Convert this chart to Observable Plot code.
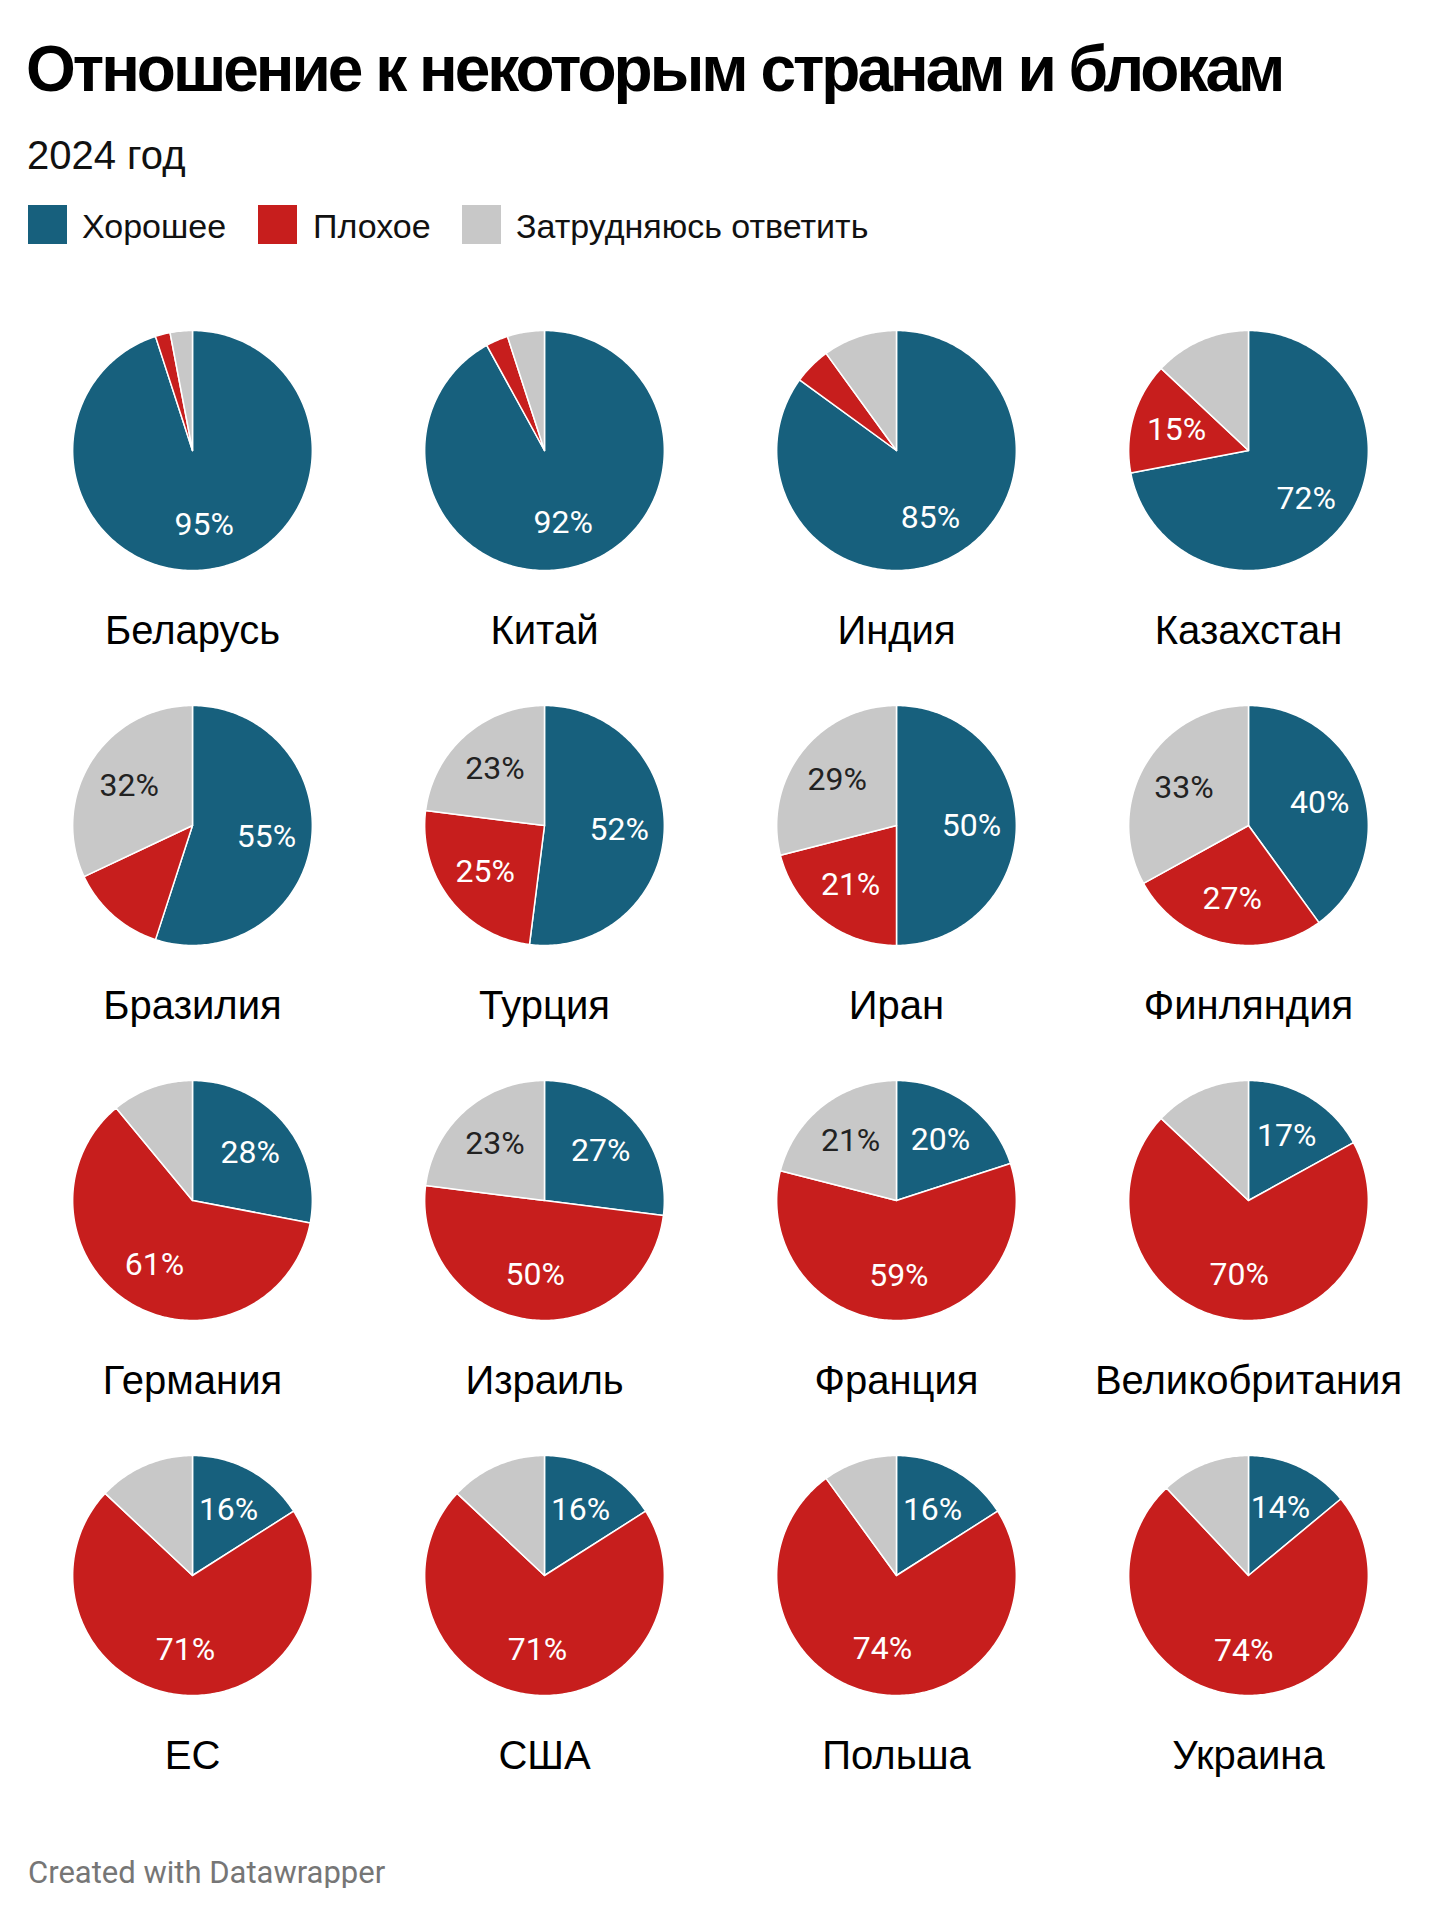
<!DOCTYPE html>
<html>
<head>
<meta charset="utf-8">
<script src="https://cdn.jsdelivr.net/npm/d3@7"></script>
<script src="https://cdn.jsdelivr.net/npm/@observablehq/plot@0.6"></script>
<style>
  html, body { margin: 0; padding: 0; background: #fff; }
  #wrap { position: relative; width: 1439px; }
  #header { position: relative; height: 270px; }
  .abs { position: absolute; white-space: nowrap; line-height: 1; }
  #title { left: 26px; top: 32px; font: bold 64px "Liberation Sans", Arial, sans-serif; letter-spacing: -3px; color: #000; }
  #subtitle { left: 27px; top: 133px; font: 40px "Liberation Sans", Arial, sans-serif; color: #111; }
  .sw { position: absolute; top: 205px; width: 39px; height: 39px; }
  .lt { top: 207px; font: 34px "Liberation Sans", Arial, sans-serif; color: #111; }
  #chart svg { display: block; }
  #footer { margin-top: 57px; padding-left: 28px; font: 31px Roboto, sans-serif; line-height: 1; color: #767676; }
</style>
</head>
<body>
<div id="wrap">
  <div id="header">
    <div id="title" class="abs">Отношение к некоторым странам и блокам</div>
    <div id="subtitle" class="abs">2024 год</div>
    <div id="legend"></div>
  </div>
  <div id="chart"></div>
  <div id="footer">Created with Datawrapper</div>
</div>
<script>
const countries = ["Беларусь","Китай","Индия","Казахстан","Бразилия","Турция","Иран","Финляндия","Германия","Израиль","Франция","Великобритания","ЕС","США","Польша","Украина"];
const good   = [95, 92, 85, 72, 55, 52, 50, 40, 28, 27, 20, 17, 16, 16, 16, 14];
const bad    = [ 2,  3,  5, 15, 13, 25, 21, 27, 61, 50, 59, 70, 71, 71, 74, 74];
const unsure = [ 3,  5, 10, 13, 32, 23, 29, 33, 11, 23, 21, 13, 13, 13, 10, 12];
const categories = ["Хорошее", "Плохое", "Затрудняюсь ответить"];
const colors = ["#17607d", "#c71e1d", "#c8c8c8"];
const COLS = 4;
const LABEL_MIN = 14;

// legend (HTML, above the SVG)
const legendX = [[28, 82], [258, 313], [462, 516]];
const legend = document.getElementById("legend");
categories.forEach((c, k) => {
  const sw = document.createElement("div");
  sw.className = "sw"; sw.style.left = legendX[k][0] + "px"; sw.style.background = colors[k];
  legend.appendChild(sw);
  const t = document.createElement("div");
  t.className = "abs lt"; t.style.left = legendX[k][1] + "px"; t.textContent = c;
  legend.appendChild(t);
});

// build pie geometry from the data
const series = [good, bad, unsure];
const pie = d3.pie().sort(null).value(d => d.value);
const slicePts = [], sliceLabels = [], names = [];
countries.forEach((name, i) => {
  const col = i % COLS, row = Math.floor(i / COLS);
  names.push({name, col, row});
  const vals = categories.map((cat, k) => ({cat, value: series[k][i]}));
  pie(vals).forEach(a => {
    const cat = a.data.cat, id = name + "|" + cat;
    const span = a.endAngle - a.startAngle;
    const n = Math.max(2, Math.ceil(span / (Math.PI / 180)));
    slicePts.push({id, cat, col, row, x: 0, y: 0});
    for (let j = 0; j <= n; j++) {
      const t = a.startAngle + span * j / n;
      slicePts.push({id, cat, col, row, x: Math.sin(t), y: Math.cos(t)});
    }
    slicePts.push({id, cat, col, row, x: 0, y: 0});
    if (a.data.value >= LABEL_MIN) {
      const m = (a.startAngle + a.endAngle) / 2;
      sliceLabels.push({text: a.data.value + "%", cat, col, row, x: 0.625 * Math.sin(m), y: 0.625 * Math.cos(m)});
    }
  });
});

const chart = Plot.plot({
  width: 1439,
  height: 1530,
  marginTop: 29.5, marginBottom: 0.5, marginLeft: 14.75, marginRight: 14.25,
  facet: {marginTop: 0, marginRight: 0, marginBottom: 0, marginLeft: 0},
  fx: {domain: [0, 1, 2, 3], padding: 0, axis: null},
  fy: {domain: [0, 1, 2, 3], padding: 0, axis: null},
  x: {domain: [-1.46875, 1.46875], axis: null},
  y: {domain: [-1.875, 1.25], axis: null},
  color: {domain: categories, range: colors},
  marks: [
    Plot.line(slicePts, {x: "x", y: "y", z: "id", fx: "col", fy: "row", fill: "cat", stroke: "#fff", strokeWidth: 1.5, strokeLinejoin: "round", curve: "linear"}),
    Plot.text(sliceLabels.filter(d => d.cat !== categories[2]), {x: "x", y: "y", fx: "col", fy: "row", text: "text", fill: "#fff", fontSize: 32, fontFamily: "Roboto"}),
    Plot.text(sliceLabels.filter(d => d.cat === categories[2]), {x: "x", y: "y", fx: "col", fy: "row", text: "text", fill: "#222", fontSize: 32, fontFamily: "Roboto"}),
    Plot.text(names, {fx: "col", fy: "row", text: "name", frameAnchor: "bottom", lineAnchor: "bottom", dy: -32, fill: "#000", fontSize: 40, fontFamily: "Liberation Sans"})
  ]
});
document.getElementById("chart").appendChild(chart);
</script>
</body>
</html>
